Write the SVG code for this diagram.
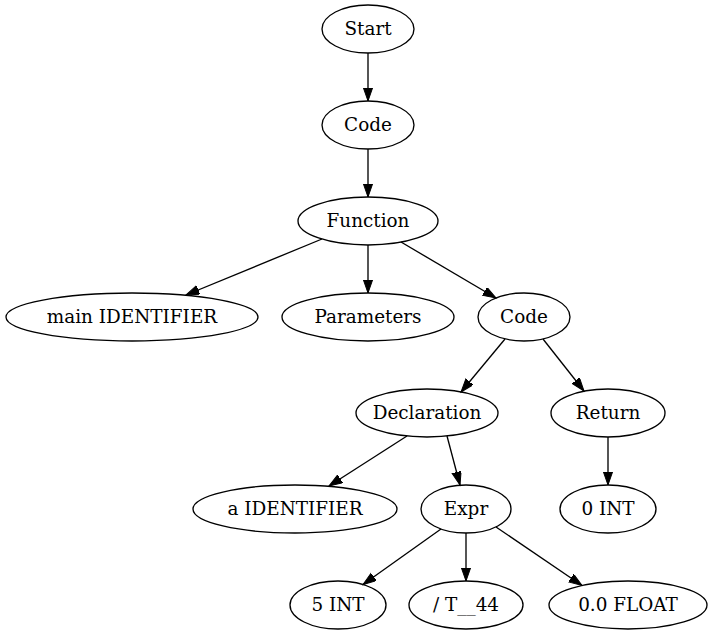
<svg xmlns="http://www.w3.org/2000/svg" width="713" height="635" viewBox="0 0 713 635">
<style>
.n ellipse{fill:none;stroke:#000;stroke-width:1.33}
.n text{font-family:"DejaVu Serif","Liberation Serif",serif;font-size:18.4px;text-anchor:middle;fill:#000}
#edges line{stroke:#000;stroke-width:1.33;marker-end:url(#ah)}
</style>
<defs>
<marker id="ah" markerUnits="userSpaceOnUse" markerWidth="15" markerHeight="11" refX="13.3" refY="4.67" orient="auto">
<path d="M0,0 L13.3,4.67 L0,9.33 Z" fill="#000" stroke="#000" stroke-width="1"/>
</marker>
</defs>
<rect width="713" height="635" fill="#fff"/>
<g id="edges">
<line x1="368" y1="53" x2="368" y2="101"/>
<line x1="368" y1="149" x2="368" y2="197"/>
<line x1="322" y1="239" x2="186" y2="295"/>
<line x1="368" y1="245" x2="368" y2="293"/>
<line x1="401" y1="242" x2="496" y2="298"/>
<line x1="505" y1="339" x2="461" y2="392"/>
<line x1="543" y1="339" x2="584" y2="391"/>
<line x1="407" y1="436" x2="329" y2="486"/>
<line x1="447" y1="436" x2="460" y2="485"/>
<line x1="608" y1="437" x2="608" y2="485"/>
<line x1="441" y1="529" x2="363" y2="584.5"/>
<line x1="466" y1="533" x2="466" y2="581"/>
<line x1="496" y1="527" x2="582" y2="585.5"/>
</g>
<g id="start" class="n"><ellipse cx="368" cy="29" rx="46" ry="24"/><text x="368" y="35">Start</text></g>
<g id="code1" class="n"><ellipse cx="368" cy="125" rx="46" ry="24"/><text x="368" y="131">Code</text></g>
<g id="function" class="n"><ellipse cx="368" cy="221" rx="70" ry="24"/><text x="368" y="227">Function</text></g>
<g id="main" class="n"><ellipse cx="132" cy="317" rx="126" ry="24"/><text x="132" y="323">main IDENTIFIER</text></g>
<g id="parameters" class="n"><ellipse cx="368" cy="317" rx="86" ry="24"/><text x="368" y="323">Parameters</text></g>
<g id="code2" class="n"><ellipse cx="524" cy="317" rx="46" ry="24"/><text x="524" y="323">Code</text></g>
<g id="declaration" class="n"><ellipse cx="427" cy="413" rx="71" ry="24"/><text x="427" y="419">Declaration</text></g>
<g id="return" class="n"><ellipse cx="608" cy="413" rx="57" ry="24"/><text x="608" y="419">Return</text></g>
<g id="aident" class="n"><ellipse cx="295" cy="509" rx="102" ry="24"/><text x="295" y="515">a IDENTIFIER</text></g>
<g id="expr" class="n"><ellipse cx="466" cy="509" rx="45" ry="24"/><text x="466" y="515">Expr</text></g>
<g id="zeroint" class="n"><ellipse cx="608" cy="509" rx="48" ry="24"/><text x="608" y="515">0 INT</text></g>
<g id="fiveint" class="n"><ellipse cx="338" cy="605" rx="48" ry="24"/><text x="338" y="611">5 INT</text></g>
<g id="t44" class="n"><ellipse cx="466" cy="605" rx="57" ry="24"/><text x="466" y="611">/ T__44</text></g>
<g id="float" class="n"><ellipse cx="628" cy="605" rx="79" ry="24"/><text x="628" y="611">0.0 FLOAT</text></g>
</svg>
